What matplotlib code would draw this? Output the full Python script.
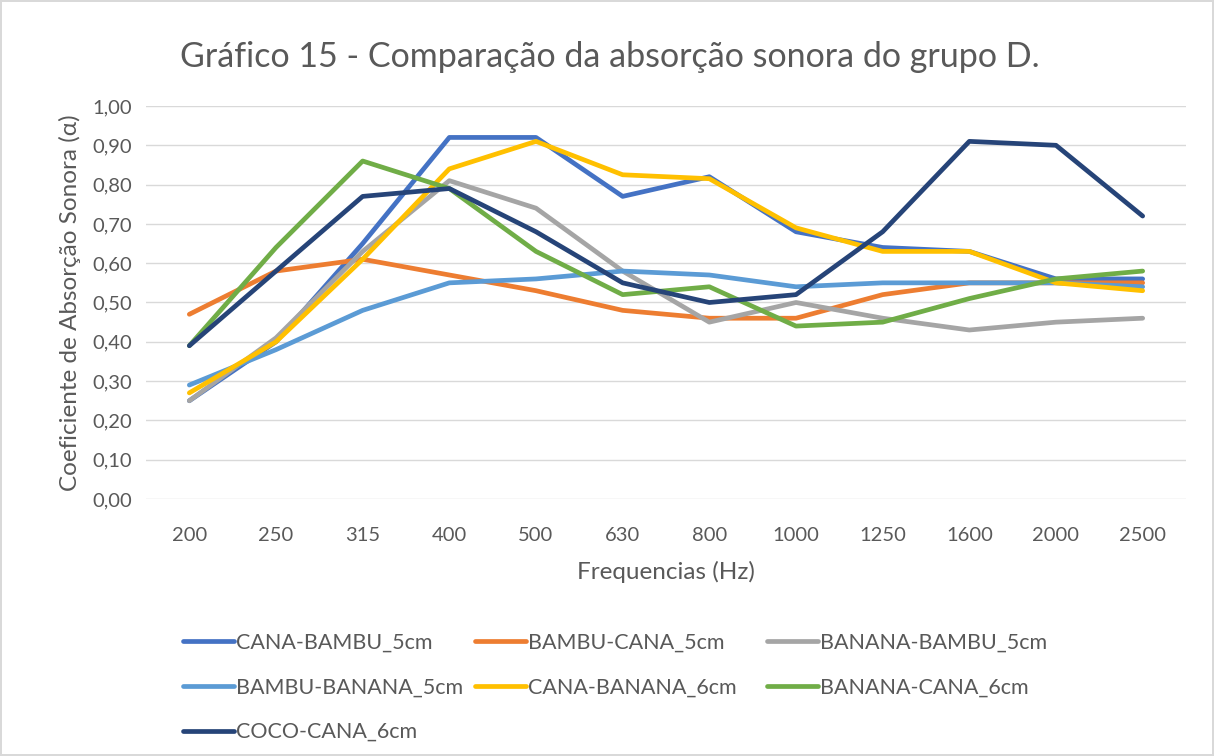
import matplotlib.pyplot as plt
import numpy as np

plt.rcParams['font.family'] = ['Lato', 'DejaVu Sans']

freqs = ['200', '250', '315', '400', '500', '630', '800', '1000', '1250', '1600', '2000', '2500']

cana_bambu_5 = [0.25, 0.40, 0.65, 0.92, 0.92, 0.77, 0.82, 0.68, 0.64, 0.63, 0.56, 0.56]
bambu_cana_5 = [0.47, 0.58, 0.61, 0.57, 0.53, 0.48, 0.46, 0.46, 0.52, 0.55, 0.55, 0.55]
banana_bambu_5 = [0.25, 0.41, 0.63, 0.81, 0.74, 0.58, 0.45, 0.50, 0.46, 0.43, 0.45, 0.46]
bambu_banana_5 = [0.29, 0.38, 0.48, 0.55, 0.56, 0.58, 0.57, 0.54, 0.55, 0.55, 0.55, 0.54]
cana_banana_6 = [0.27, 0.40, 0.61, 0.84, 0.91, 0.825, 0.815, 0.69, 0.63, 0.63, 0.55, 0.53]
banana_cana_6 = [0.39, 0.64, 0.86, 0.79, 0.63, 0.52, 0.54, 0.44, 0.45, 0.51, 0.56, 0.58]
coco_cana_6 = [0.39, 0.58, 0.77, 0.79, 0.68, 0.55, 0.50, 0.52, 0.68, 0.91, 0.90, 0.72]

series = [
    ('CANA-BAMBU_5cm', cana_bambu_5, '#4472C4'),
    ('BAMBU-CANA_5cm', bambu_cana_5, '#ED7D31'),
    ('BANANA-BAMBU_5cm', banana_bambu_5, '#A5A5A5'),
    ('BAMBU-BANANA_5cm', bambu_banana_5, '#5B9BD5'),
    ('CANA-BANANA_6cm', cana_banana_6, '#FFC000'),
    ('BANANA-CANA_6cm', banana_cana_6, '#70AD47'),
    ('COCO-CANA_6cm', coco_cana_6, '#264478'),
]

txt = '#595959'
fig = plt.figure(figsize=(12.14, 7.56), dpi=100)
fig.patch.set_edgecolor('#D9D9D9')
fig.patch.set_linewidth(1.5)
ax = fig.add_axes([146 / 1214, 1 - 499 / 756, 1040 / 1214, 393 / 756])

x = np.arange(len(freqs))
handles = []
for name, vals, col in series:
    h, = ax.plot(x, vals, color=col, lw=3.4, label=name,
                 solid_capstyle='round', solid_joinstyle='round')
    handles.append(h)

ax.set_xlim(-0.5, len(freqs) - 0.5)
ax.set_ylim(0, 1.0)
ax.set_yticks(np.arange(0, 1.01, 0.1))
ax.set_yticklabels([f'{v:.2f}'.replace('.', ',') for v in np.arange(0, 1.01, 0.1)])
ax.set_xticks(x)
ax.set_xticklabels(freqs)
ax.grid(axis='y', color='#D9D9D9', lw=1)
ax.set_axisbelow(True)
for s in ax.spines.values():
    s.set_visible(False)
ax.tick_params(length=0, labelsize=14.5, colors=txt, pad=10)
ax.tick_params(axis='x', pad=20)

ax.set_xlabel('Frequencias (Hz)', fontsize=17.5, color=txt, labelpad=12)
ax.set_ylabel('Coeficiente de Absorção Sonora (α)', fontsize=17.5, color=txt, labelpad=8)
fig.text(610 / 1214, 1 - 57 / 756, 'Gráfico 15 - Comparação da absorção sonora do grupo D.',
         ha='center', va='center', fontsize=24.5, color=txt)

# three legend columns, equal widths like Excel
cols = [[0, 3, 6], [1, 4], [2, 5]]
for i, idx in enumerate(cols):
    leg = fig.legend([handles[j] for j in idx], [series[j][0] for j in idx],
                     loc='upper left', bbox_to_anchor=((174 + 292 * i) / 1214, 1 - 624 / 756),
                     frameon=False, fontsize=15.5, labelcolor=txt, handlelength=2.4,
                     handletextpad=0.1, labelspacing=1.15, borderaxespad=0)

fig.savefig('out.png', dpi=100)
